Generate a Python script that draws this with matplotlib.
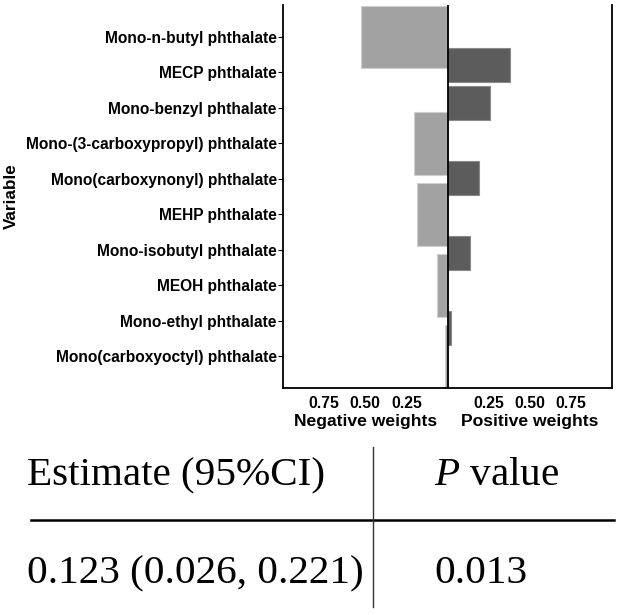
import matplotlib
matplotlib.use("Agg")
import matplotlib.pyplot as plt
from matplotlib.lines import Line2D

# ---- data ----
variables = [
    "Mono-n-butyl phthalate",
    "MECP phthalate",
    "Mono-benzyl phthalate",
    "Mono-(3-carboxypropyl) phthalate",
    "Mono(carboxynonyl) phthalate",
    "MEHP phthalate",
    "Mono-isobutyl phthalate",
    "MEOH phthalate",
    "Mono-ethyl phthalate",
    "Mono(carboxyoctyl) phthalate",
]
neg_vars = ["Mono-n-butyl phthalate", "Mono-(3-carboxypropyl) phthalate",
            "MEHP phthalate", "MEOH phthalate", "Mono(carboxyoctyl) phthalate"]
neg_weights = [0.523, 0.202, 0.188, 0.065, 0.018]
pos_vars = ["MECP phthalate", "Mono-benzyl phthalate", "Mono(carboxynonyl) phthalate",
            "Mono-isobutyl phthalate", "Mono-ethyl phthalate"]
pos_weights = [0.382, 0.261, 0.194, 0.135, 0.024]
tick_vals = [0.25, 0.50, 0.75]

table_header = ["Estimate (95%CI)", "value"]
table_row = ["0.123 (0.026, 0.221)", "0.013"]

# ---- figure ----
W, H = 624, 615
fig = plt.figure(figsize=(W / 100, H / 100), dpi=100)
ax = fig.add_axes([283 / W, 1 - 388 / H, (612 - 283) / W, (388 - 5) / H])

n = len(variables)
lo, hi = -0.9, n - 1 + 0.9
span = hi - lo
# negative panel: bars centred at label positions
neg_y = [variables.index(v) for v in neg_vars]
ax.barh(neg_y, [-w for w in neg_weights], height=1.77, color="#a2a2a2",
        edgecolor="#cfcfcf", linewidth=0.8, zorder=2)
# positive panel: discrete scale with 0.6 expansion
pscale = span / (n - 1 + 1.2)
pos_y = [lo + pscale * (variables.index(v) + 0.6) for v in pos_vars]
ax.barh(pos_y, pos_weights, height=0.9 * pscale, color="#5c5c5c",
        edgecolor="#8a8a8a", linewidth=0.8, zorder=2)

ax.axvline(0, color="black", linewidth=1.3, zorder=3)
ax.set_xlim(-1, 1)
ax.set_ylim(hi, lo)
ax.set_yticks(range(n))
ax.set_yticklabels(variables, fontsize=11.2, fontweight="bold", family="Liberation Sans")
xt = [-t for t in tick_vals[::-1]] + tick_vals
ax.set_xticks(xt)
ax.set_xticklabels([f"{abs(t):.2f}" for t in xt], fontsize=11.3, fontweight="bold",
                   family="Liberation Sans")
ax.tick_params(axis="x", length=0, pad=6)
ax.tick_params(axis="y", length=3.5, width=0.8, pad=1)
for s in ["left", "bottom", "right"]:
    ax.spines[s].set_linewidth(1.3)
ax.spines["top"].set_visible(False)

ax.text(-0.5, -0.087, "Negative weights", transform=ax.get_xaxis_transform(),
        ha="center", va="center", fontsize=12.6, fontweight="bold", family="Liberation Sans")
ax.text(0.5, -0.087, "Positive weights", transform=ax.get_xaxis_transform(),
        ha="center", va="center", fontsize=12.6, fontweight="bold", family="Liberation Sans")
fig.text(11 / W, 1 - 196 / H, "Variable", rotation=90, ha="center", va="center",
         fontsize=12.3, fontweight="bold", family="Liberation Sans")

# ---- table ----
plt.rcParams["mathtext.fontset"] = "custom"
plt.rcParams["mathtext.rm"] = "Liberation Serif"
plt.rcParams["mathtext.it"] = "Liberation Serif:italic"
fs = 29.6
fig.text(27 / W, 1 - 485 / H, table_header[0], ha="left", va="baseline",
         fontsize=fs, family="Liberation Serif")
fig.text(434 / W, 1 - 485 / H, r"$\mathit{P}$ " + table_header[1], ha="left", va="baseline",
         fontsize=fs, family="Liberation Serif")
fig.text(27 / W, 1 - 583 / H, table_row[0], ha="left", va="baseline",
         fontsize=fs, family="Liberation Serif")
fig.text(434 / W, 1 - 583 / H, table_row[1], ha="left", va="baseline",
         fontsize=fs, family="Liberation Serif")
fig.add_artist(Line2D([31 / W, 614 / W], [1 - 520 / H, 1 - 520 / H], color="black",
                      linewidth=1.8, transform=fig.transFigure))
fig.add_artist(Line2D([373 / W, 373 / W], [1 - 447 / H, 1 - 607 / H], color="#333333",
                      linewidth=1.0, transform=fig.transFigure))

fig.savefig("out.png", dpi=100)
